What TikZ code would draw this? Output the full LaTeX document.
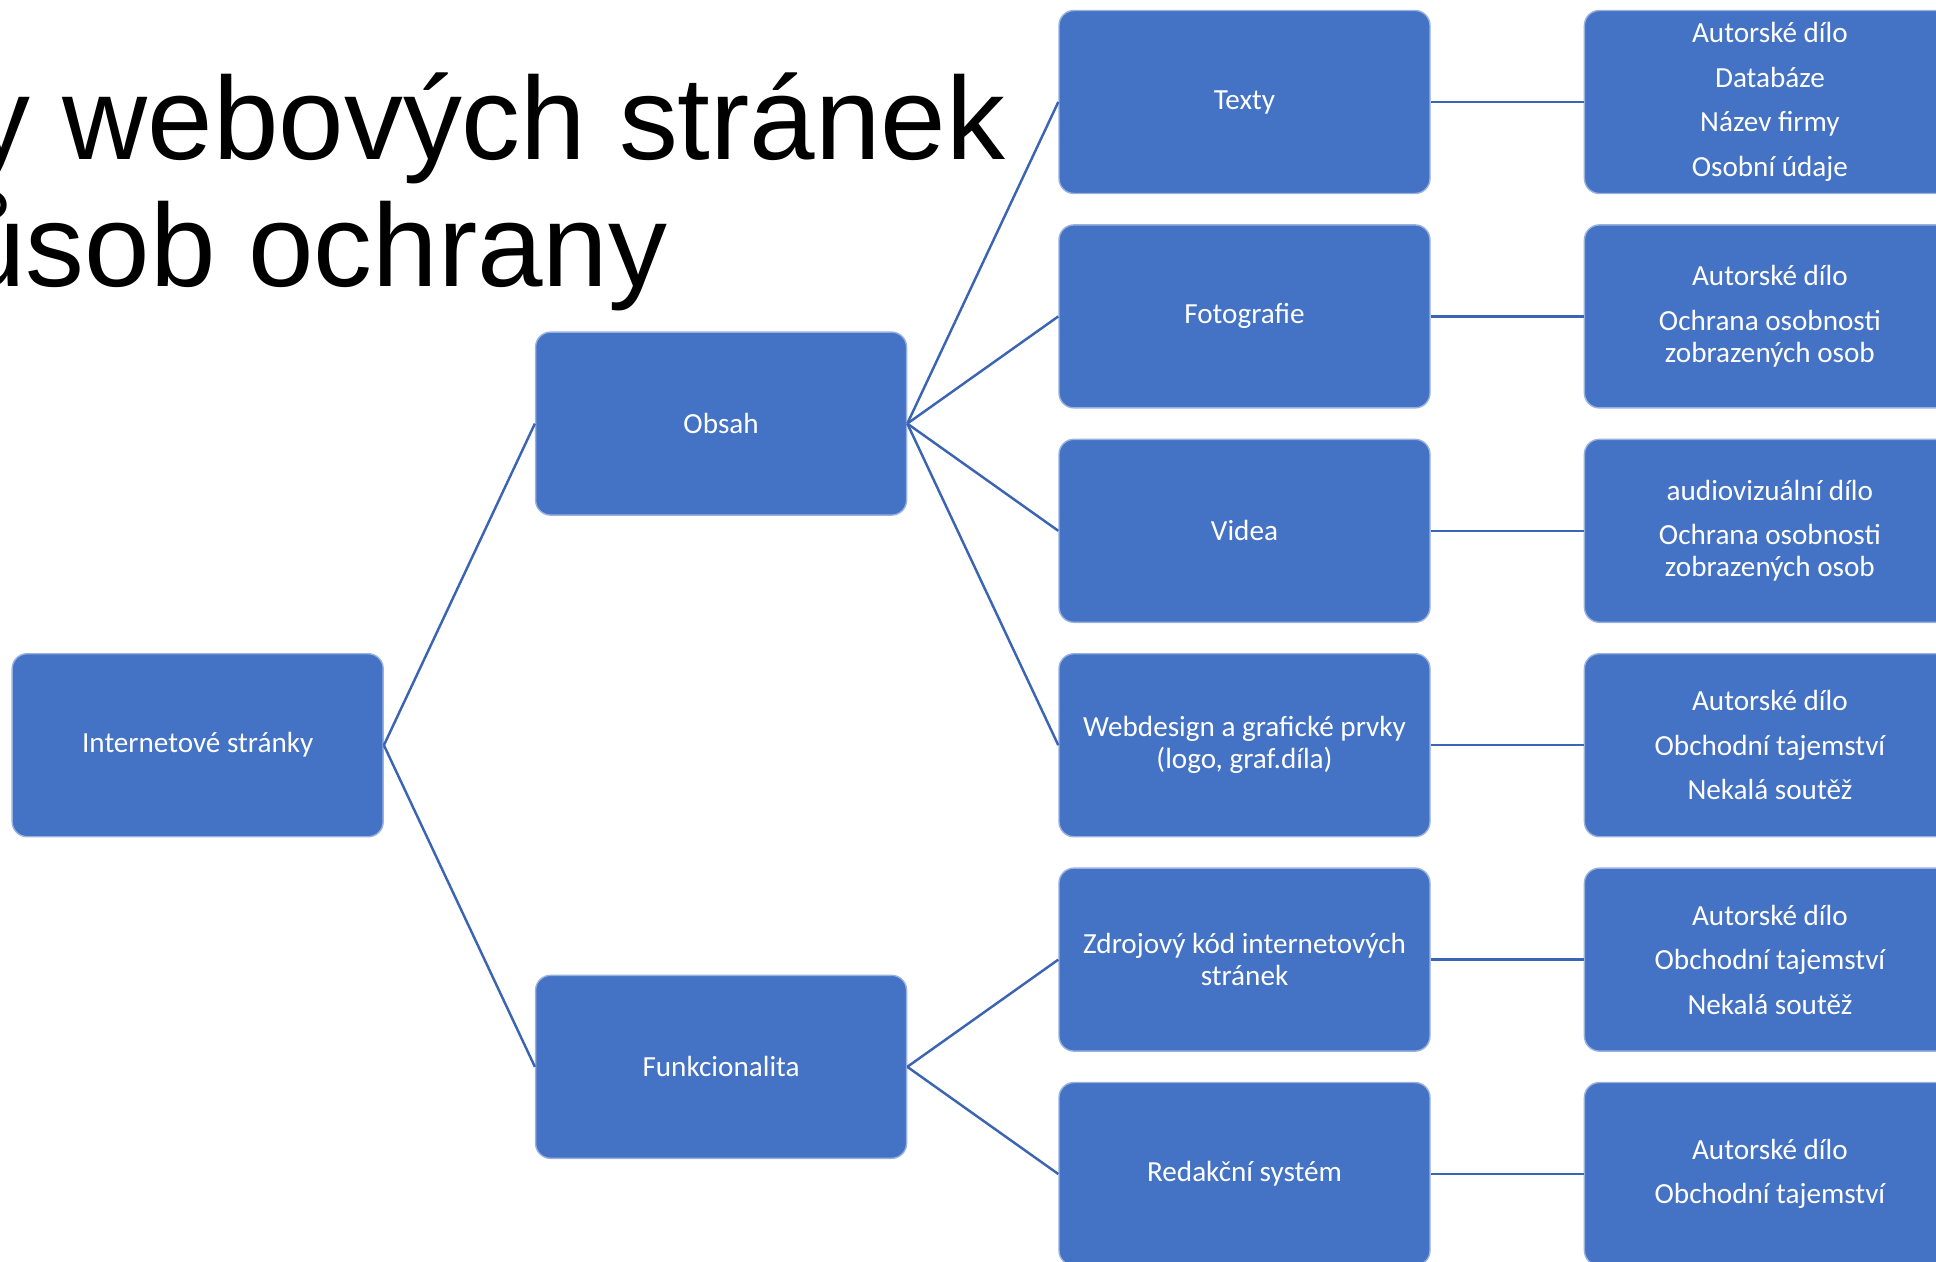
\documentclass[tikz,border=0pt]{standalone}
\usepackage{fontspec}
\setmainfont{Carlito}
\newfontfamily\titlefont{Liberation Sans}
\usepackage{tikz}
\usetikzlibrary{positioning, calc}
\definecolor{boxblue}{HTML}{4472C4}
\definecolor{lineblue}{HTML}{3B64B3}
\tikzstyle{topic} = [rectangle, rounded corners=0.15cm, minimum width=3.71cm, minimum height=1.83cm, text centered, align=center, draw=white!45!boxblue, line width=0.4pt, fill=boxblue, text=white, font=\fontsize{8.3}{9.1}\selectfont]
\tikzstyle{law} = [topic]
\tikzstyle{link} = [draw=lineblue, line width=0.7pt]
\tikzstyle{heading} = [anchor=base east, inner sep=0pt, font=\titlefont\fontsize{33.5}{40}\selectfont]

\begin{document}
\begin{tikzpicture}
            \useasboundingbox (0,0) rectangle (19.36,-12.62);
            % Title (cut at the left edge)
            \node (title-a) [heading] at (10.06,-1.60) {y webových stránek};
            \node (title-b) [heading] at (6.68,-2.87) {ůsob ochrany};

            % Nodes
            \node (texty) [topic] at (12.445,-1.02) {Texty};
            \node (foto) [topic, below=0.30cm of texty] {Fotografie};
            \node (videa) [topic, below=0.30cm of foto] {Videa};
            \node (web) [topic, below=0.30cm of videa] {Webdesign a grafické prvky\\(logo, graf.díla)};
            \node (kod) [topic, below=0.30cm of web] {Zdrojový kód internetových\\stránek};
            \node (redakce) [topic, below=0.30cm of kod] {Redakční systém};

            \coordinate (mid-obsah) at ($(foto.west)!0.5!(videa.west)$);
            \node (obsah) [topic, left=1.51cm of mid-obsah] {Obsah};
            \coordinate (mid-funkce) at ($(kod.west)!0.5!(redakce.west)$);
            \node (funkce) [topic, left=1.51cm of mid-funkce] {Funkcionalita};
            \coordinate (mid-web) at ($(obsah.west)!0.5!(funkce.west)$);
            \node (internet) [topic, left=1.51cm of mid-web] {Internetové stránky};

            % Kind of protection
            \node (texty-law) [law, right=1.53cm of texty] {Autorské dílo\\[3.6pt]Databáze\\[3.6pt]Název firmy\\[3.6pt]Osobní údaje};
            \node (foto-law) [law, right=1.53cm of foto] {Autorské dílo\\[3.6pt]Ochrana osobnosti\\zobrazených osob};
            \node (videa-law) [law, right=1.53cm of videa] {audiovizuální dílo\\[3.6pt]Ochrana osobnosti\\zobrazených osob};
            \node (web-law) [law, right=1.53cm of web] {Autorské dílo\\[3.6pt]Obchodní tajemství\\[3.6pt]Nekalá soutěž};
            \node (kod-law) [law, right=1.53cm of kod] {Autorské dílo\\[3.6pt]Obchodní tajemství\\[3.6pt]Nekalá soutěž};
            \node (redakce-law) [law, right=1.53cm of redakce] {Autorské dílo\\[3.6pt]Obchodní tajemství};

            % Lines
            \draw [link] (internet.east) -- (obsah.west);
            \draw [link] (internet.east) -- (funkce.west);
            \draw [link] (obsah.east) -- (texty.west);
            \draw [link] (obsah.east) -- (foto.west);
            \draw [link] (obsah.east) -- (videa.west);
            \draw [link] (obsah.east) -- (web.west);
            \draw [link] (funkce.east) -- (kod.west);
            \draw [link] (funkce.east) -- (redakce.west);
            \draw [link] (texty.east) -- (texty-law.west);
            \draw [link] (foto.east) -- (foto-law.west);
            \draw [link] (videa.east) -- (videa-law.west);
            \draw [link] (web.east) -- (web-law.west);
            \draw [link] (kod.east) -- (kod-law.west);
            \draw [link] (redakce.east) -- (redakce-law.west);
        \end{tikzpicture}
\end{document}
